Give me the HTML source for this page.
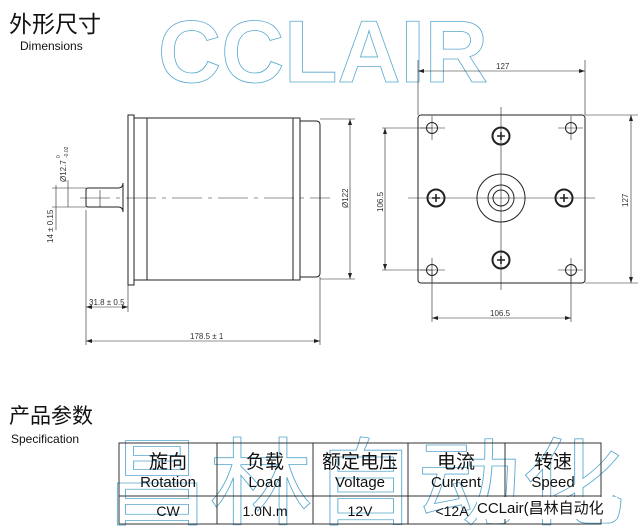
<!DOCTYPE html>
<html><head><meta charset="utf-8"><style>
html,body{margin:0;padding:0;background:#fff;}
svg{display:block;}
</style></head><body>
<svg width="641" height="530" viewBox="0 0 641 530" xmlns="http://www.w3.org/2000/svg" font-family="Liberation Sans, Noto Sans CJK SC, sans-serif">
<!-- headings -->
<text x="9" y="32" font-size="23" font-family="Liberation Sans, Noto Sans CJK SC, sans-serif" fill="#111">外形尺寸</text>
<text x="20" y="50" font-size="12" fill="#111">Dimensions</text>
<!-- CCLAIR watermark -->
<text x="158" y="82" font-size="88" font-weight="bold" fill="none" stroke="#5aa9cf" stroke-width="0.8" textLength="330" lengthAdjust="spacingAndGlyphs">CCLAIR</text>

<g stroke="#222" fill="none" stroke-width="1">
<!-- side view -->
<rect x="128" y="115" width="6" height="170"/>
<rect x="134" y="118" width="166" height="162"/>
<line x1="147" y1="118" x2="147" y2="280"/>
<line x1="293" y1="118" x2="293" y2="280"/>
<path d="M300 121 H316 Q320 121 320 125 V273 Q320 277 316 277 H300"/>
<path d="M123 183 Q123 188 118 188 H88 Q86 188 86 190 V205 Q86 207 88 207 H118 Q123 207 123 212 Z"/>
<line x1="100" y1="190" x2="100" y2="207" stroke-width="0.6"/>
<line x1="80" y1="198" x2="330" y2="198" stroke-dasharray="30,6,4,6" stroke-width="0.6"/>
<!-- dims side -->
<g stroke-width="0.6">
<line x1="52" y1="188" x2="86" y2="188"/><line x1="52" y1="207" x2="86" y2="207"/>
<line x1="56" y1="185" x2="56" y2="230"/>
<line x1="68" y1="180" x2="68" y2="207"/>
<line x1="86" y1="210" x2="86" y2="345"/>
<line x1="128" y1="285" x2="128" y2="312"/>
<line x1="320" y1="277" x2="320" y2="345"/>
<line x1="86" y1="307" x2="128" y2="307"/>
<line x1="86" y1="341" x2="320" y2="341"/>
<line x1="320" y1="119" x2="355" y2="119"/><line x1="320" y1="279" x2="355" y2="279"/>
<line x1="350" y1="119" x2="350" y2="279"/>
</g>
<!-- front view -->
<rect x="418" y="115" width="167" height="168" rx="3"/>
<circle cx="501" cy="198" r="24"/>
<circle cx="501" cy="198" r="13"/>
<circle cx="501" cy="198" r="8"/>
<g stroke-width="0.6">
<line x1="501" y1="107" x2="501" y2="290"/>
<line x1="408" y1="198" x2="595" y2="198"/>
<line x1="420" y1="128" x2="445" y2="128"/><line x1="432" y1="116" x2="432" y2="140"/>
<line x1="558" y1="128" x2="583" y2="128"/><line x1="571" y1="116" x2="571" y2="140"/>
<line x1="420" y1="270" x2="445" y2="270"/><line x1="432" y1="258" x2="432" y2="282"/>
<line x1="558" y1="270" x2="583" y2="270"/><line x1="571" y1="258" x2="571" y2="282"/>
<!-- dims front -->
<line x1="418" y1="60" x2="418" y2="115"/><line x1="585" y1="60" x2="585" y2="115"/>
<line x1="418" y1="71" x2="585" y2="71"/>
<line x1="585" y1="115" x2="638" y2="115"/><line x1="585" y1="283" x2="638" y2="283"/>
<line x1="631" y1="115" x2="631" y2="283"/>
<line x1="382" y1="128" x2="432" y2="128"/><line x1="382" y1="270" x2="432" y2="270"/>
<line x1="385" y1="128" x2="385" y2="270"/>
<line x1="432" y1="270" x2="432" y2="322"/><line x1="571" y1="270" x2="571" y2="322"/>
<line x1="432" y1="318" x2="571" y2="318"/>
</g>
<circle cx="432" cy="128" r="5.5"/><circle cx="571" cy="128" r="5.5"/>
<circle cx="432" cy="270" r="5.5"/><circle cx="571" cy="270" r="5.5"/>
<g stroke-width="2">
<circle cx="501" cy="136" r="8.5"/><circle cx="501" cy="260" r="8.5"/>
<circle cx="436" cy="198" r="8.5"/><circle cx="564" cy="198" r="8.5"/>
</g>
<g stroke-width="1.6">
<path d="M497 136h8M501 132v8"/><path d="M497 260h8M501 256v8"/>
<path d="M432 198h8M436 194v8"/><path d="M560 198h8M564 194v8"/>
</g>
</g>
<!-- arrowheads (small) -->
<g fill="#222">
<path d="M86 341l6-2v4z"/><path d="M320 341l-6-2v4z"/>
<path d="M86 307l6-2v4z"/><path d="M128 307l-6-2v4z"/>
<path d="M418 71l6-2v4z"/><path d="M585 71l-6-2v4z"/>
<path d="M432 318l6-2v4z"/><path d="M571 318l-6-2v4z"/>
<path d="M631 115l-2 6h4z"/><path d="M631 283l-2-6h4z"/>
<path d="M385 128l-2 6h4z"/><path d="M385 270l-2-6h4z"/>
<path d="M350 119l-2 6h4z"/><path d="M350 279l-2-6h4z"/>
</g>
<g font-size="8" fill="#333">
<text x="496" y="69">127</text>
<text x="490" y="316">106.5</text>
<text x="190" y="339">178.5 ± 1</text>
<text x="89" y="305">31.8 ± 0.5</text>
<text transform="translate(628,207) rotate(-90)">127</text>
<text transform="translate(383,212) rotate(-90)">106.5</text>
<text transform="translate(348,208) rotate(-90)">Ø122</text>
<text transform="translate(53,243) rotate(-90)">14 ± 0.15</text>
<text transform="translate(66,182) rotate(-90)">Ø12.7</text>
<text transform="translate(60,158) rotate(-90)" font-size="5">0</text>
<text transform="translate(68,158) rotate(-90)" font-size="5">-0.02</text>
</g>

<!-- spec -->
<text x="9" y="423" font-size="21" fill="#111">产品参数</text>
<text x="11" y="443" font-size="12" fill="#111">Specification</text>
<text x="105" y="517" font-size="95" fill="none" stroke="#5aa9cf" stroke-width="0.8" textLength="520" lengthAdjust="spacingAndGlyphs">昌林自动化</text>
<g stroke="#333" fill="none" stroke-width="1">
<rect x="119" y="443" width="482" height="81"/>
<line x1="119" y1="496" x2="601" y2="496"/>
<line x1="217" y1="443" x2="217" y2="524"/>
<line x1="313" y1="443" x2="313" y2="524"/>
<line x1="408" y1="443" x2="408" y2="524"/>
<line x1="505" y1="443" x2="505" y2="524"/>
</g>
<g text-anchor="middle" fill="#111">
<g font-size="19"><text x="168" y="468">旋向</text><text x="265" y="468">负载</text><text x="360" y="468">额定电压</text><text x="456" y="468">电流</text><text x="553" y="468">转速</text></g>
<g font-size="15"><text x="168" y="487">Rotation</text><text x="265" y="487">Load</text><text x="360" y="487">Voltage</text><text x="456" y="487">Current</text><text x="553" y="487">Speed</text></g>
<g font-size="14"><text x="168" y="516">CW</text><text x="265" y="516">1.0N.m</text><text x="360" y="516">12V</text><text x="452" y="516">&lt;12A</text></g>
</g>
<rect x="477" y="497" width="140" height="22" fill="#fff"/>
<text x="477" y="513" font-size="15" fill="#111">CCLair(昌林自动化</text>
</svg>
</body></html>
